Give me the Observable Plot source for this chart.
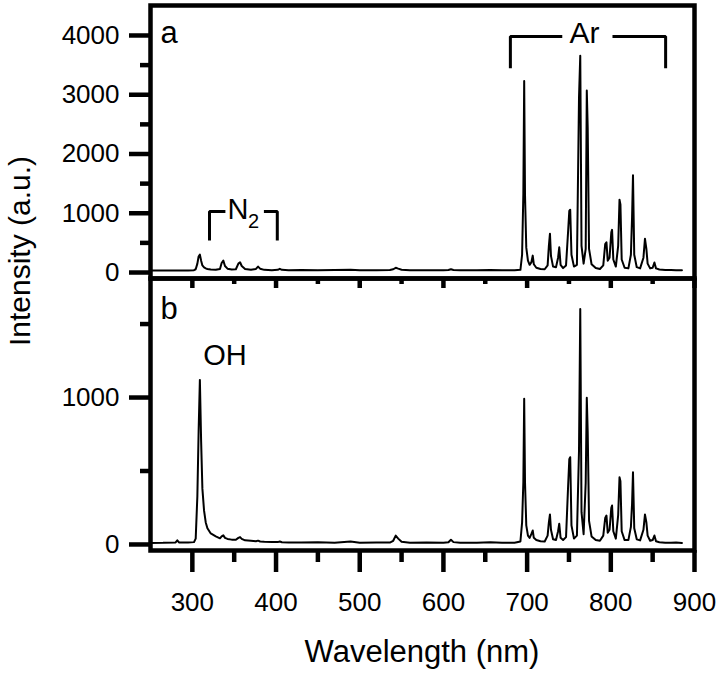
<!DOCTYPE html>
<html>
<head>
<meta charset="utf-8">
<script src="https://cdn.jsdelivr.net/npm/d3@7"></script>
<script src="https://cdn.jsdelivr.net/npm/@observablehq/plot@0.6"></script>
<style>
  body { margin: 0; background: #fff; }
  #wrap { position: relative; width: 718px; height: 676px; overflow: hidden; background: #fff; }
  #wrap svg { position: absolute; left: 0; }
</style>
</head>
<body>
<div id="wrap"></div>
<script>
// ---- data ----
const wavelength = [
  250, 265, 280, 282, 284, 295, 302,
  304, 306, 307.5, 309, 310.5, 312, 314, 316, 318, 322,
  328, 333, 335, 337, 339, 342, 347, 352, 355, 357,
  359, 363, 370, 376, 378.5, 381, 386, 395, 402, 404.5,
  407, 415,
  430, 450, 470, 489, 500, 520, 536, 540, 543, 546,
  550, 560, 580, 600, 606, 609, 612, 620, 640, 656,
  670, 685, 692,
  694, 695.5, 696.5, 697.5, 699, 701, 703, 705, 706.7, 708,
  711, 716, 721, 724.5, 726, 727.3, 728.5, 731, 734.5, 737,
  738.4, 740, 743, 746.5, 749, 750.4, 751.5, 753, 756, 759.5,
  762, 763.5, 765, 767.5, 770, 771.3, 772.4, 774, 777, 782,
  787, 791, 793.3, 794.8, 796.3, 798.5, 800.6, 801.5, 803, 806,
  808.8, 810.4, 811.5, 813, 816.5, 821, 824, 825.4, 826.5, 828,
  831, 835, 839, 840.8, 842.5, 844, 847, 850, 852.1, 854,
  858, 865, 872, 878, 885
];
const intensityA = [
  35, 34, 36, 36, 35, 36, 40,
  55, 150, 270, 302, 200, 120, 85, 70, 60, 50,
  45, 60, 160, 200, 110, 65, 50, 55, 150, 173,
  110, 60, 45, 60, 100, 65, 45, 40, 45, 62,
  45, 40,
  42, 38, 41, 46, 39, 40, 42, 55, 80, 65,
  48, 40, 39, 38, 42, 55, 42, 38, 37, 42,
  37, 38, 45,
  300, 1330, 3230, 1300, 420, 200, 130, 170, 285, 140,
  80, 60, 55, 120, 450, 655, 280, 100, 90, 250,
  425, 130, 75, 120, 700, 1040, 1060, 300, 100, 130,
  2950, 3660, 450, 150, 400, 3070, 2440, 400, 140, 75,
  60, 120, 480, 510, 200, 250, 680, 720, 220, 100,
  450, 1230, 1150, 220, 80, 70, 300, 930, 1640, 300,
  90, 70, 250, 570, 400, 150, 70, 80, 170, 70,
  50, 44, 42, 40, 38
];
const intensityB = [
  10, 11, 14, 28, 14, 14, 16,
  40, 330, 770, 1120, 700, 380, 230, 150, 110, 75,
  55, 42, 55, 62, 45, 38, 33, 32, 45, 50,
  38, 28, 25, 22, 26, 20, 18, 16, 16, 20,
  15, 14,
  13, 15, 12, 20, 12, 14, 13, 25, 60, 40,
  18, 12, 14, 12, 15, 32, 16, 12, 12, 15,
  11, 12, 20,
  150, 424, 991, 420, 130, 60, 45, 70, 95, 45,
  30, 22, 20, 60, 150, 204, 100, 35, 30, 90,
  141, 45, 30, 50, 400, 580, 594, 130, 40, 60,
  640, 1603, 220, 70, 420, 998, 764, 160, 55, 30,
  25, 60, 180, 197, 80, 100, 250, 265, 90, 40,
  200, 458, 430, 90, 30, 30, 120, 277, 492, 110,
  35, 28, 100, 204, 150, 60, 25, 30, 61, 22,
  15, 12, 11, 13, 10
];

const xTicks = [300, 400, 500, 600, 700, 800, 900];
const xMinorTicks = [350, 450, 550, 650, 750, 850];
const xMidTicks = [300, 400, 500, 600, 700, 800, 900];
const xMidMinorTicks = [350, 450, 550, 650, 750, 850];
const yTicksA = [0, 1000, 2000, 3000, 4000];
const yMinorA = [500, 1500, 2500, 3500];
const yTicksB = [0, 1000];
const yMinorB = [500, 1500];

// annotations (data units)
const n2BracketLeft = [[320.5, 540], [320.5, 1030], [339.5, 1030]];
const n2BracketRight = [[385.5, 1030], [401.5, 1030], [401.5, 540]];
const arBracketLeft = [[680, 3445], [680, 3983], [742, 3983]];
const arBracketRight = [[802, 3983], [865.5, 3983], [865.5, 3445]];
const labelsA = [
  {x: 262, y: 3865, text: "a", anchor: "start", size: 31},
  {x: 768.7, y: 3865, text: "Ar", anchor: "middle", size: 30},
  {x: 342, y: 911, text: "N", anchor: "start", size: 29},
  {x: 366.5, y: 743, text: "2", anchor: "start", size: 20}
];
const labelsB = [
  {x: 262, y: 1537, text: "b", anchor: "start", size: 31},
  {x: 339, y: 1218, text: "OH", anchor: "middle", size: 29}
];

// ---- drawing ----
const font = "'Liberation Sans', Arial, Helvetica, sans-serif";
const W = 718, ML = 150, MR = 24;
const rowsA = wavelength.map((w, i) => ({w, v: intensityA[i]}));
const rowsB = wavelength.map((w, i) => ({w, v: intensityB[i]}));
const svgStyle = {fontFamily: font, overflow: "visible", background: "transparent", color: "#000"};
const fmt = d => String(d);
const blank = () => "";
const bracket = pts => Plot.line(pts, {stroke: "#000", strokeWidth: 3, strokeLinejoin: "miter", strokeLinecap: "butt"});
const labelMarks = labs => labs.map(l => Plot.text([l], {
  x: "x", y: "y", text: "text", textAnchor: l.anchor, lineAnchor: "bottom",
  fontSize: l.size, fill: "#000"
}));

const plotA = Plot.plot({
  width: W, height: 278,
  marginLeft: ML, marginRight: MR, marginTop: 5, marginBottom: 0,
  x: {domain: [250, 900], axis: null},
  y: {domain: [-101, 4506], axis: null},
  style: svgStyle,
  marks: [
    Plot.line(rowsA, {x: "w", y: "v", stroke: "#000", strokeWidth: 2}),
    Plot.axisY(yTicksA, {tickSize: 21, tickPadding: 10, strokeWidth: 4.5, fontSize: 26, label: null, tickFormat: fmt}),
    Plot.axisY(yMinorA, {tickSize: 10, strokeWidth: 4.5, label: null, tickFormat: blank}),
    bracket(n2BracketLeft), bracket(n2BracketRight),
    bracket(arBracketLeft), bracket(arBracketRight),
    ...labelMarks(labelsA),
    Plot.frame({stroke: "#000", strokeWidth: 4.5})
  ]
});
plotA.style.top = "0px";

const plotBHeight = 398, plotBBottom = 126;
const innerB = plotBHeight - plotBBottom;
const plotB = Plot.plot({
  width: W, height: plotBHeight,
  marginLeft: ML, marginRight: MR, marginTop: 0, marginBottom: plotBBottom,
  x: {domain: [250, 900], axis: null},
  y: {domain: [-41, 1810], axis: null},
  style: svgStyle,
  marks: [
    Plot.line(rowsB, {x: "w", y: "v", stroke: "#000", strokeWidth: 2}),
    Plot.axisY(yTicksB, {tickSize: 21, tickPadding: 10, strokeWidth: 4.5, fontSize: 26, label: null, tickFormat: fmt}),
    Plot.axisY(yMinorB, {tickSize: 10, strokeWidth: 4.5, label: null, tickFormat: blank}),
    Plot.axisX(xTicks, {tickSize: 22, tickPadding: 20, strokeWidth: 4.5, fontSize: 26, label: null, tickFormat: fmt}),
    Plot.axisX(xMinorTicks, {tickSize: 12, strokeWidth: 4.5, label: null, tickFormat: blank}),
    Plot.tickX(xMidTicks, {x: d => d, insetBottom: innerB - 10, stroke: "#000", strokeWidth: 4.5}),
    Plot.tickX(xMidMinorTicks, {x: d => d, insetBottom: innerB - 6, stroke: "#000", strokeWidth: 4.5}),
    ...labelMarks(labelsB),
    Plot.frame({stroke: "#000", strokeWidth: 4.5})
  ]
});
plotB.style.top = "278px";

const wrap = document.getElementById("wrap");
wrap.appendChild(plotA);
wrap.appendChild(plotB);

// axis titles
const titles = d3.select(wrap).append("svg")
  .attr("width", W).attr("height", 676)
  .style("top", "0px").style("pointer-events", "none")
  .style("font-family", font);
titles.append("text")
  .attr("x", 422).attr("y", 662)
  .attr("text-anchor", "middle").attr("font-size", 31).attr("fill", "#000")
  .text("Wavelength (nm)");
titles.append("text")
  .attr("transform", "translate(30,251) rotate(-90)")
  .attr("text-anchor", "middle").attr("font-size", 30).attr("fill", "#000")
  .text("Intensity (a.u.)");
</script>
</body>
</html>
